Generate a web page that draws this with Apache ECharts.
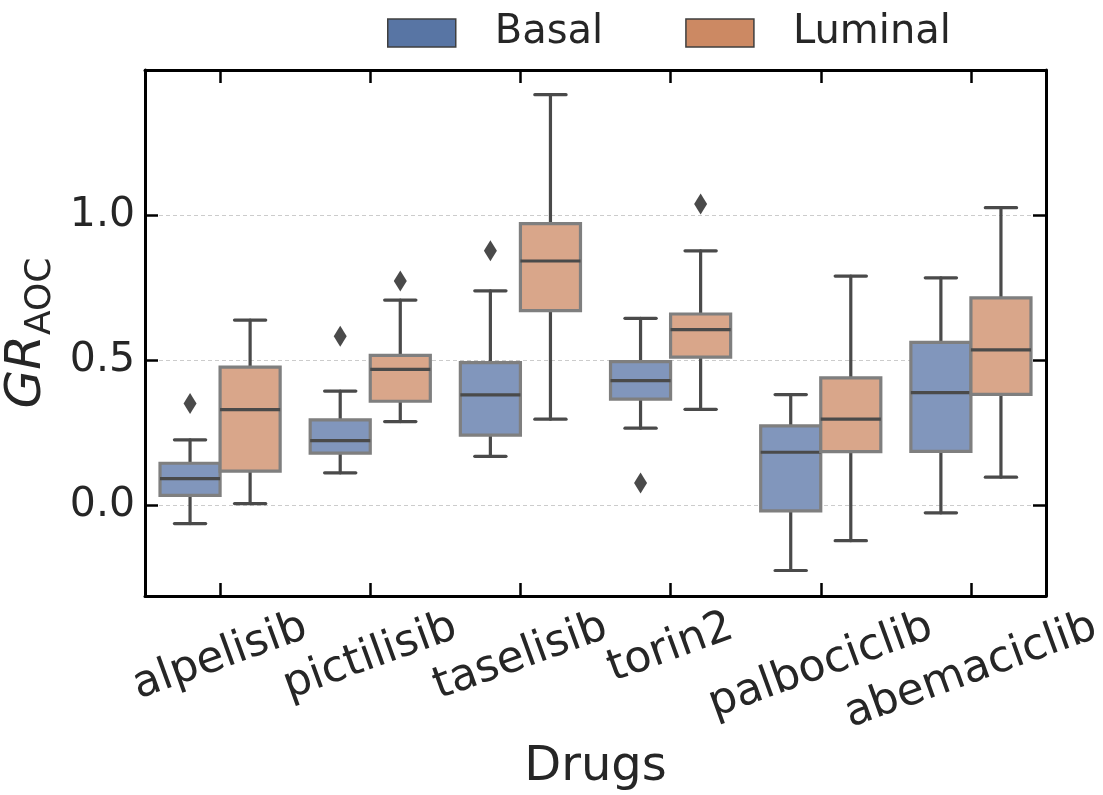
<!DOCTYPE html>
<html>
<head>
<meta charset="utf-8">
<script src="https://cdn.jsdelivr.net/npm/echarts@6/dist/echarts.min.js"></script>
<style>html,body{margin:0;padding:0;background:#fff}#c{width:1103px;height:795px}</style>
</head>
<body>
<div id="c"></div>
<script>
// ---- data ----
const categories = ['alpelisib', 'pictilisib', 'taselisib', 'torin2', 'palbociclib', 'abemaciclib'];
// [lower whisker, Q1, median, Q3, upper whisker]
const basalStats = [
  [-0.063, 0.034, 0.092, 0.145, 0.226],
  [0.112, 0.180, 0.223, 0.295, 0.394],
  [0.169, 0.242, 0.381, 0.492, 0.740],
  [0.266, 0.366, 0.430, 0.496, 0.645],
  [-0.225, -0.019, 0.183, 0.274, 0.382],
  [-0.026, 0.186, 0.389, 0.562, 0.785]
];
const luminalStats = [
  [0.006, 0.118, 0.330, 0.477, 0.639],
  [0.289, 0.359, 0.469, 0.517, 0.708],
  [0.297, 0.672, 0.843, 0.972, 1.417],
  [0.331, 0.511, 0.606, 0.660, 0.878],
  [-0.122, 0.185, 0.297, 0.440, 0.791],
  [0.097, 0.383, 0.536, 0.716, 1.027]
];
// outliers: [category index, value]
const basalOutliers = [[0, 0.351], [1, 0.583], [2, 0.878], [3, 0.077]];
const luminalOutliers = [[1, 0.774], [3, 1.040]];
const yTicks = [0.0, 0.5, 1.0];
const groupNames = ['Basal', 'Luminal'];

// ---- style ----
const FONT = 'DejaVu Sans';
const TXT = '#262626';
const DARK = '#4a4a4a';
const fillColors = ['#8196BC', '#D9A68A'];
const legendColors = ['#5875A4', '#CC8963'];

// x label offsets (matplotlib-like rotated bbox top alignment)
const LBL_FS = 44, LBL_LH = 51, ROT = 20 * Math.PI / 180;
const mctx = document.createElement('canvas').getContext('2d');
mctx.font = LBL_FS + 'px "' + FONT + '"';
const offs = categories.map(c => 6 + (mctx.measureText(c).width * Math.sin(ROT) + LBL_LH * Math.cos(ROT)) / 2);
const M = Math.min.apply(null, offs);
const rich = {};
categories.forEach((c, i) => {
  const dy = offs[i] - M;
  rich['l' + i] = {
    fontSize: LBL_FS, fontFamily: FONT, color: TXT, lineHeight: LBL_LH,
    padding: [2 * dy * Math.cos(ROT), 2 * dy * Math.sin(ROT), 0, 0]
  };
});

function boxRender(side, fill) {
  return function (params, api) {
    const cat = api.value(0);
    const band = api.size([1, 0])[0];
    const bw = band * 0.4;
    const cx = api.coord([cat, 0])[0] + side * bw / 2;
    const Y = v => api.coord([cat, v])[1];
    const lo = Y(api.value(1)), q1 = Y(api.value(2)), med = Y(api.value(3)), q3 = Y(api.value(4)), hi = Y(api.value(5));
    const cap = bw * 0.26;
    const ls = { stroke: DARK, lineWidth: 3.2, lineCap: 'round' };
    return {
      type: 'group',
      children: [
        { type: 'line', shape: { x1: cx, y1: q3, x2: cx, y2: hi }, style: ls },
        { type: 'line', shape: { x1: cx, y1: q1, x2: cx, y2: lo }, style: ls },
        { type: 'line', shape: { x1: cx - cap, y1: hi, x2: cx + cap, y2: hi }, style: ls },
        { type: 'line', shape: { x1: cx - cap, y1: lo, x2: cx + cap, y2: lo }, style: ls },
        { type: 'rect', shape: { x: cx - bw / 2, y: q3, width: bw, height: q1 - q3 },
          style: { fill: fill, stroke: '#7f7f7f', lineWidth: 3.2 } },
        { type: 'line', shape: { x1: cx - bw / 2, y1: med, x2: cx + bw / 2, y2: med },
          style: { stroke: DARK, lineWidth: 3.2 } }
      ]
    };
  };
}
function outlierRender(side) {
  return function (params, api) {
    const cat = api.value(0);
    const band = api.size([1, 0])[0];
    const bw = band * 0.4;
    const p = api.coord([cat, api.value(1)]);
    const cx = p[0] + side * bw / 2, cy = p[1];
    return {
      type: 'polygon',
      shape: { points: [[cx, cy - 10.5], [cx + 6.5, cy], [cx, cy + 10.5], [cx - 6.5, cy]] },
      style: { fill: DARK }
    };
  };
}

const chart = echarts.init(document.getElementById('c'), null, { renderer: 'canvas' });
const axisLine = { show: true, onZero: false, lineStyle: { color: '#000', width: 3 } };
const option = {
  animation: false,
  textStyle: { fontFamily: FONT },
  legend: {
    left: 382, top: 5, itemWidth: 68, itemHeight: 28, itemGap: 82,
    data: groupNames.map((n, i) => ({
      name: n, icon: 'rect',
      itemStyle: { color: legendColors[i], borderColor: '#3f3f3f', borderWidth: 1.5 }
    })),
    textStyle: { fontSize: 40, color: TXT, fontFamily: FONT, lineHeight: 46, padding: [0, 0, 0, 34] },
    selectedMode: false
  },
  grid: { left: 145, right: 57, top: 70, bottom: 199, containLabel: false, outerBoundsMode: 'none' },
  xAxis: [{
    type: 'category', data: categories, position: 'bottom',
    boundaryGap: true,
    axisLine: axisLine,
    axisTick: { show: true, inside: true, alignWithLabel: true, length: 13, lineStyle: { color: '#000', width: 2.5 } },
    axisLabel: {
      interval: 0, rotate: 20, align: 'center', verticalAlign: 'middle', margin: M, hideOverlap: false,
      formatter: (v, i) => '{l' + i + '|' + v + '}', rich: rich
    },
    splitLine: { show: false },
    name: 'Drugs', nameLocation: 'middle', nameGap: 138,
    nameTextStyle: { fontSize: 48, color: TXT, fontFamily: FONT }
  }, {
    type: 'category', data: categories, position: 'top',
    boundaryGap: true,
    axisLine: axisLine,
    axisTick: { show: true, inside: true, alignWithLabel: true, length: 13, lineStyle: { color: '#000', width: 2.5 } },
    axisLabel: { show: false }, splitLine: { show: false }
  }],
  yAxis: [{
    type: 'value', min: -0.313, max: 1.502, position: 'left',
    axisLine: axisLine,
    axisTick: { show: true, inside: true, length: 13, customValues: yTicks, lineStyle: { color: '#000', width: 2.5 } },
    axisLabel: {
      customValues: yTicks, fontSize: 41, color: TXT, fontFamily: FONT, margin: 10,
      formatter: v => v.toFixed(1)
    },
    splitLine: { show: true, lineStyle: { color: '#cccccc', type: [4, 3], width: 1 } },
    name: '{g|GR}{s|AOC}', nameLocation: 'middle', nameGap: 76,
    nameTextStyle: {
      rich: {
        g: { fontSize: 50, fontStyle: 'italic', fontFamily: FONT, color: TXT },
        s: { fontSize: 36, fontFamily: FONT, color: TXT, padding: [28, 0, 0, 0] }
      }
    }
  }, {
    type: 'value', min: -0.313, max: 1.502, position: 'right',
    axisLine: axisLine,
    axisTick: { show: true, inside: true, length: 13, customValues: yTicks, lineStyle: { color: '#000', width: 2.5 } },
    axisLabel: { show: false }, splitLine: { show: false }
  }],
  series: [
    { name: 'Basal', type: 'custom', renderItem: boxRender(-1, fillColors[0]),
      encode: { x: 0, y: [1, 2, 3, 4, 5] },
      data: basalStats.map((s, i) => [i].concat(s)), itemStyle: { color: legendColors[0] }, z: 3 },
    { name: 'Luminal', type: 'custom', renderItem: boxRender(1, fillColors[1]),
      encode: { x: 0, y: [1, 2, 3, 4, 5] },
      data: luminalStats.map((s, i) => [i].concat(s)), itemStyle: { color: legendColors[1] }, z: 3 },
    { name: 'BasalOut', type: 'custom', renderItem: outlierRender(-1),
      encode: { x: 0, y: 1 }, data: basalOutliers, z: 4 },
    { name: 'LuminalOut', type: 'custom', renderItem: outlierRender(1),
      encode: { x: 0, y: 1 }, data: luminalOutliers, z: 4 }
  ]
};
chart.setOption(option);
</script>
</body>
</html>
